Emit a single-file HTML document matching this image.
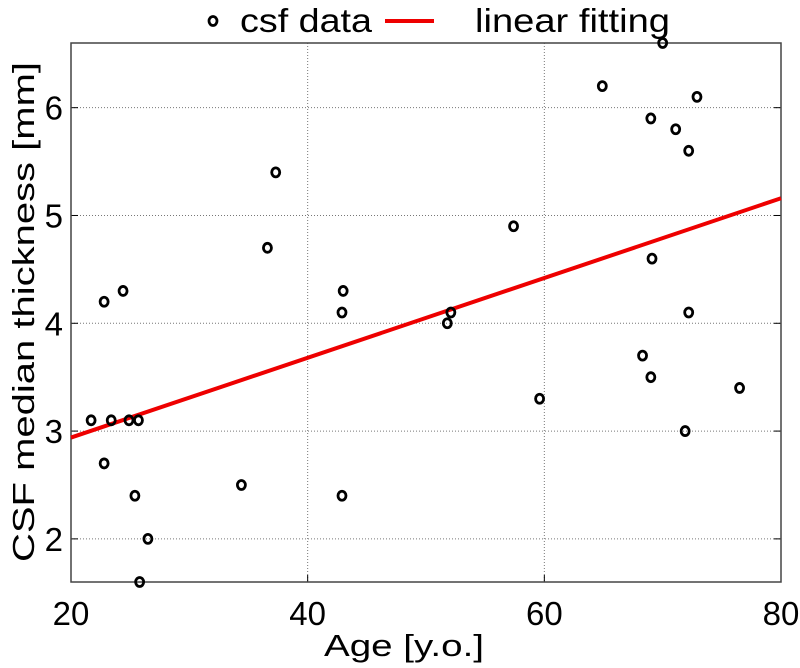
<!DOCTYPE html>
<html><head><meta charset="utf-8"><style>body{margin:0;background:#fff}svg{display:block}text{font-family:"Liberation Sans",sans-serif}</style></head>
<body>
<svg id="chart" width="800" height="668"></svg>
<script>
const ages=[21.7,22.8,22.8,23.4,24.4,24.9,25.4,25.7,25.8,26.5,34.4,36.6,37.3,42.9,43.0,42.9,51.8,52.1,57.4,59.6,64.9,68.3,69.0,69.0,69.1,70.0,71.1,71.9,72.2,72.2,72.9,76.5];
const thick=[3.1,4.2,2.7,3.1,4.3,3.1,2.4,3.1,1.6,2.0,2.5,4.7,5.4,4.1,4.3,2.4,4.0,4.1,4.9,3.3,6.2,3.7,3.5,5.9,4.6,6.6,5.8,3.0,5.6,4.1,6.1,3.4];
const fitX=[20,80];
const fitY=[2.94,5.16];
const xTicks=[20,40,60,80];
const yTicks=[2,3,4,5,6];
const NS="http://www.w3.org/2000/svg";
const svg=document.getElementById('chart');
const L=71,R=781,T=43,B=582,xmin=20,xmax=80,ymin=1.6,ymax=6.6;
const sx=v=>L+(v-xmin)/(xmax-xmin)*(R-L);
const sy=v=>B-(v-ymin)/(ymax-ymin)*(B-T);
function mk(tag,attrs,parent){const e=document.createElementNS(NS,tag);for(const k in attrs)e.setAttribute(k,attrs[k]);(parent||svg).appendChild(e);return e;}
const grid=mk('g',{});


xTicks.forEach(t=>{
  if(t>xmin&&t<xmax){const g=mk('line',{x1:sx(t),x2:sx(t),y1:T,y2:B,stroke:'#777','stroke-width':1,'stroke-dasharray':'1,2'},grid);
  }
  const tl=mk('line',{x1:sx(t),x2:sx(t),y1:B,y2:B-7,stroke:'#000'});
  
  const tx=mk('text',{x:sx(t),y:B+43,'text-anchor':'middle','font-size':33});
  tx.textContent=t;
  
});
yTicks.forEach(t=>{
  const g=mk('line',{x1:L,x2:R,y1:sy(t),y2:sy(t),stroke:'#777','stroke-width':1,'stroke-dasharray':'1,2'},grid);
  
  const tl=mk('line',{x1:L,x2:L+7,y1:sy(t),y2:sy(t),stroke:'#000'});
  
  const tl2=mk('line',{x1:R,x2:R-7,y1:sy(t),y2:sy(t),stroke:'#000'});
  
  const tx=mk('text',{x:L-8,y:sy(t)+12,'text-anchor':'end','font-size':33});
  tx.textContent=t;
  
});
const frame=mk('rect',{x:L,y:T,width:R-L,height:B-T,fill:'none',stroke:'#444','stroke-width':1.5});

const fit=mk('line',{x1:sx(fitX[0]),y1:sy(fitY[0]),x2:sx(fitX[1]),y2:sy(fitY[1]),stroke:'#e00','stroke-width':4});

ages.forEach((a,i)=>{
  const c=mk('ellipse',{cx:sx(a),cy:sy(thick[i]),rx:4,ry:4.5,fill:'none',stroke:'#000','stroke-width':2.8});
  
});
const xl=mk('text',{x:404,y:656,'text-anchor':'middle','font-size':31,textLength:160,lengthAdjust:'spacingAndGlyphs'});
xl.textContent='Age [y.o.]';

const yl=mk('text',{x:0,y:0,'text-anchor':'middle','font-size':31,transform:'translate(34,312) rotate(-90)',textLength:500,lengthAdjust:'spacingAndGlyphs'});
yl.textContent='CSF median thickness [mm]';

const leg=mk('g',{});

const lm=mk('ellipse',{cx:213,cy:21,rx:4,ry:4.5,fill:'none',stroke:'#000','stroke-width':2.8},leg);

const lt1=mk('text',{x:240,y:32,'font-size':33,textLength:132,lengthAdjust:'spacingAndGlyphs'},leg);
lt1.textContent='csf data';

const ll=mk('line',{x1:385,x2:434,y1:21,y2:21,stroke:'#e00','stroke-width':4},leg);

const lt2=mk('text',{x:475,y:32,'font-size':33,textLength:195,lengthAdjust:'spacingAndGlyphs'},leg);
lt2.textContent='linear fitting';

</script>
</body></html>
